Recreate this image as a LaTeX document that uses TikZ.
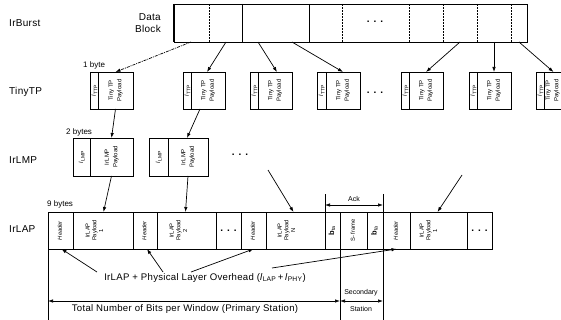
\documentclass[tikz,border=0pt]{standalone}
\usepackage{fontspec}
\setmainfont{Liberation Sans}
\usepackage{graphicx}
\usetikzlibrary{arrows.meta}
\newcommand\rtx[1]{\rotatebox{90}{\begin{tabular}{@{}c@{}}#1\end{tabular}}}
\begin{document}
\begin{tikzpicture}[x=1pt,y=-1pt,
  base/.style={draw, line width=0.7pt, inner sep=0pt, outer sep=0pt, anchor=west},
  tcell/.style={base, minimum height=37pt, font=\fontsize{6}{8.5}\selectfont},
  mcell/.style={base, minimum height=38pt, font=\fontsize{6}{8.5}\selectfont},
  fcell/.style={base, minimum height=37pt, font=\fontsize{5.8}{6.8}\selectfont},
  ptxt/.style={inner sep=0pt, font=\fontsize{5.8}{6.8}\selectfont},
  layer/.style={anchor=west, inner sep=0pt, font=\fontsize{10}{12}\selectfont\addfontfeature{LetterSpace=3}},
  note/.style={anchor=west, inner sep=0pt, font=\fontsize{8}{9}\selectfont},
  tiny/.style={inner sep=0pt, font=\fontsize{7}{8}\selectfont},
  big/.style={inner sep=0pt, font=\fontsize{9.6}{11}\selectfont\addfontfeature{LetterSpace=3}},
  arr/.style={-{Latex[length=5pt,width=3.5pt]}, line width=0.7pt},
  dbl/.style={{Latex[length=5pt,width=3.5pt]}-{Latex[length=5pt,width=3.5pt]}, line width=0.7pt},
  dots/.style={inner sep=0pt, font=\fontsize{10}{10}\selectfont\bfseries},
]
\useasboundingbox (0,0) rectangle (561,320);
\newcommand\dd{.\hspace{4pt}.\hspace{4pt}.}
\newcommand\tpay{\rtx{Tiny TP\\Payload}}
\newcommand\thdr{\rtx{\textit{l}\textsubscript{TTP}}}

% layer labels
\node[layer] (lb1) at (9,23) {IrBurst};
\node[layer] (lb2) at (9,92) {TinyTP};
\node[layer] (lb3) at (9,160) {IrLMP};
\node[layer] (lb4) at (9,229) {IrLAP};

% data block
\node[anchor=east, align=right, inner sep=0pt, font=\fontsize{10}{12}\selectfont\addfontfeature{LetterSpace=3}] (dbl) at (161,23) {Data\\Block};
\node[base, minimum width=353pt, minimum height=38pt] (db) at (174,23) {};
\draw[line width=1.4pt] (db.north west) -- (db.south west);
\foreach \x in {35,168,235,269,303,337}
  \draw[line width=0.6pt, dash pattern=on 2pt off 1pt] ([xshift=\x pt]db.north west) -- ([xshift=\x pt]db.south west);
\foreach \x in {68,135}
  \draw[line width=0.9pt] ([xshift=\x pt]db.north west) -- ([xshift=\x pt]db.south west);
\node[dots] (dbd) at (375,22) {\dd};

% TinyTP
\node[note] (n1) at (83,65) {1 byte};
\node[tcell, minimum width=8pt] (t1h) at (90,90.5) {\thdr};
\node[tcell, minimum width=35pt] (t1p) at (98,90.5) {\tpay};
\node[tcell, minimum width=8pt] (t2h) at (183,90.5) {\thdr};
\node[tcell, minimum width=34pt] (t2p) at (191,90.5) {\tpay};
\node[tcell, minimum width=8pt] (t3h) at (250,90.5) {\thdr};
\node[tcell, minimum width=34pt] (t3p) at (258,90.5) {\tpay};
\node[tcell, minimum width=9pt] (t4h) at (317,90.5) {\thdr};
\node[tcell, minimum width=34pt] (t4p) at (326,90.5) {\tpay};
\node[dots] (td) at (375,93) {\dd};
\node[tcell, minimum width=8pt] (t5h) at (401,90.5) {\thdr};
\node[tcell, minimum width=34pt] (t5p) at (409,90.5) {\tpay};
\node[tcell, minimum width=8pt] (t6h) at (469,90.5) {\thdr};
\node[tcell, minimum width=34pt] (t6p) at (477,90.5) {\tpay};
\node[tcell, minimum width=8pt] (t7h) at (536,90.5) {\thdr};
\node[tcell, minimum width=16pt] (t7p) at (544,90.5) {\tpay};

% arrows data block -> TinyTP
\draw[arr, dash pattern=on 3pt off 1pt on 1pt off 1pt] ([xshift=17pt]db.south west) -- (t1p.north);
\draw[arr] ([xshift=52pt]db.south west) -- ([xshift=-1pt]t2p.north);
\draw[arr] ([xshift=84pt]db.south west) -- ([xshift=2pt]t3p.north);
\draw[arr] ([xshift=118pt]db.south west) -- (t4p.north);
\draw[arr] ([xshift=286pt]db.south west) -- (t5p.north);
\draw[arr] ([xshift=320pt]db.south west) -- (t6p.north);
\draw[arr] ([xshift=345pt]db.south west) -- ([xshift=1pt]t7p.north);

% IrLMP
\node[note] (n2) at (66,132) {2 bytes};
\node[mcell, minimum width=17pt] (m1h) at (73,157) {\rtx{\textit{l}\textsubscript{LMP}}};
\node[mcell, minimum width=43pt] (m1p) at (90,157) {\rtx{IrLMP\\Payload}};
\node[mcell, minimum width=19pt] (m2h) at (149,157) {\rtx{\textit{l}\textsubscript{LMP}}};
\node[mcell, minimum width=40pt] (m2p) at (168,157) {\rtx{IrLMP\\Payload}};
\node[dots] (md) at (240,155) {\dd};

\draw[arr] (t1p.south) -- (m1p.north);
\draw[arr] ([xshift=-8pt]t2p.south) -- ([xshift=-1pt]m2p.north);

% IrLAP frame
\node[note] (n3) at (47,204) {9 bytes};
\node[fcell, minimum width=25pt] (h1) at (48,230.5) {\rtx{\textit{Header}}};
\node[fcell, minimum width=60pt] (p1) at (73,230.5) {};
\node[fcell, minimum width=24pt] (h2) at (133,230.5) {\rtx{\textit{Header}}};
\node[fcell, minimum width=59pt] (p2) at (157,230.5) {};
\node[fcell, minimum width=25pt] (d1) at (216,230.5) {};
\node[fcell, minimum width=25pt] (h3) at (241,230.5) {\rtx{\textit{Header}}};
\node[fcell, minimum width=59pt] (pN) at (266,230.5) {};
\node[fcell, minimum width=15pt, font=\fontsize{7.5}{8}\selectfont] (b1) at (325,230.5) {\rtx{\textbf{b}\textsubscript{ta}}};
\node[fcell, minimum width=27pt] (sf) at (340,230.5) {\rtx{S- frame}};
\node[fcell, minimum width=16pt, font=\fontsize{7.5}{8}\selectfont] (b2) at (367,230.5) {\rtx{\textbf{b}\textsubscript{ta}}};
\node[fcell, minimum width=27pt] (h4) at (383,230.5) {\rtx{\textit{Header}}};
\node[fcell, minimum width=57pt] (p4) at (410,230.5) {};
\node[fcell, minimum width=25pt] (d2) at (467,230.5) {};
\node[dots] (d1t) at (d1.center) {\dd};
\node[dots] (d2t) at (d2.center) {\dd};
\node[ptxt] (p1t) at ([xshift=22pt]p1.west) {\rtx{IrLAP\\Payload\\1}};
\node[ptxt] (p2t) at ([xshift=22pt]p2.west) {\rtx{IrLAP\\Payload\\2}};
\node[ptxt] (pNt) at ([xshift=21pt]pN.west) {\rtx{IrLAP\\Payload\\N}};
\node[ptxt] (p4t) at ([xshift=19pt]p4.west) {\rtx{IrLAP\\Payload\\1}};

\coordinate (u3) at (268,170);
\coordinate (u4) at (462,175);
\draw[arr] (m1p.south) -- ([xshift=-8pt]m1p.south |- p1.north);
\draw[arr] (m2p.south) -- ([xshift=-1pt]p2.north);
\draw[arr] (u3) -- ([xshift=-2pt]pN.north);
\draw[arr] (u4) -- ([xshift=-1pt]p4.north);

% Ack
\draw[line width=0.7pt] (b1.north west) -- ([yshift=18pt]b1.north west);
\draw[line width=0.7pt] ([yshift=18pt]b2.north east) -- ([yshift=-71pt]b2.south east);
\draw[dbl] ([yshift=7pt]b1.north west) -- ([yshift=7pt]b2.north east);
\node[tiny] (ack) at (354,199) {Ack};

% overhead
\node[big] (ov) at (205,278) {IrLAP + Physical Layer Overhead (\textit{l}\textsubscript{LAP}\,+\,\textit{l}\textsubscript{PHY})};
\coordinate (o1) at (97,272);
\coordinate (o2) at (163,272);
\coordinate (o3) at (191,272);
\coordinate (o4) at (272,268);
\draw[arr] (o1) -- ([xshift=1pt]h1.south);
\draw[arr] (o2) -- ([xshift=2pt]h2.south);
\draw[arr] (o3) -- (h3.south);
\draw[arr] (o4) -- (h4.south);

% totals
\draw[line width=0.7pt] (h1.south west) -- ([yshift=-71pt]h1.south west);
\draw[line width=0.7pt] (sf.south west) -- ([yshift=-71pt]sf.south west);
\draw[dbl] ([yshift=-52pt]h1.south west) -- ([yshift=-52pt]sf.south west);
\draw[dbl] ([yshift=-52pt]sf.south west) -- ([yshift=-52pt]b2.south east);
\node[big] (tot) at (185,309) {Total Number of Bits per Window (Primary Station)};
\node[tiny] (sec1) at (361,293) {Secondary};
\node[tiny] (sec2) at (361,309) {Station};
\end{tikzpicture}
\end{document}
